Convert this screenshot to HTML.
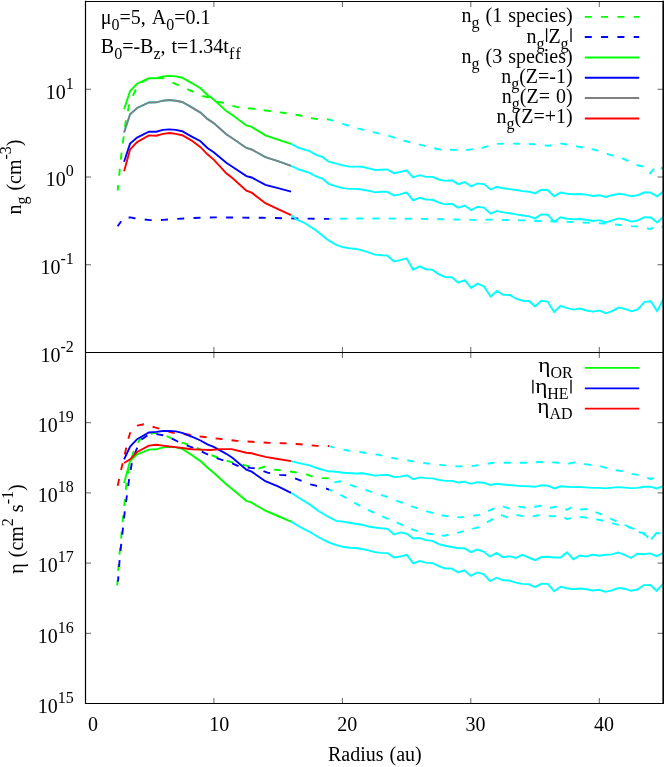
<!DOCTYPE html>
<html><head><meta charset="utf-8"><title>plot</title><style>
html,body{margin:0;padding:0;background:#fff;}
#w{position:relative;width:664px;height:767px;overflow:hidden;background:#fff;font-family:"Liberation Serif",serif;font-size:20px;color:#000;will-change:transform;}
.t{position:absolute;white-space:nowrap;line-height:1;word-spacing:1px;font-variant-ligatures:none;font-feature-settings:"liga" 0,"clig" 0;}
.r{text-align:right;}
.sb{font-size:16px;position:relative;top:6px;}
.sp{font-size:16px;position:relative;top:-10px;}
.rot{transform-origin:0 0;transform:rotate(-90deg);}
</style></head>
<body><div id="w">
<svg width="664" height="767" viewBox="0 0 664 767" style="position:absolute;left:0;top:0">
<defs><clipPath id="c1"><rect x="85.5" y="1.5" width="577.5" height="351"/></clipPath><clipPath id="c2"><rect x="85.5" y="352.5" width="577.5" height="351"/></clipPath><clipPath id="c1a"><rect x="85.5" y="1.5" width="243.8" height="351"/></clipPath><clipPath id="c1b"><rect x="329.3" y="1.5" width="333.7" height="351"/></clipPath><clipPath id="c2a"><rect x="85.5" y="352.5" width="243.8" height="351"/></clipPath><clipPath id="c2b"><rect x="329.3" y="352.5" width="333.7" height="351"/></clipPath></defs>
<defs><clipPath id="z0"><rect x="85.5" y="1.5" width="129.5" height="351"/></clipPath><clipPath id="z1"><rect x="215" y="1.5" width="114.30000000000001" height="351"/></clipPath><clipPath id="z2"><rect x="329.3" y="1.5" width="333.7" height="351"/></clipPath><clipPath id="z3"><rect x="85.5" y="1.5" width="243.8" height="351"/></clipPath><clipPath id="z4"><rect x="329.3" y="1.5" width="333.7" height="351"/></clipPath><clipPath id="z5"><rect x="85.5" y="352.5" width="243.8" height="351"/></clipPath><clipPath id="z6"><rect x="329.3" y="352.5" width="70.69999999999999" height="351"/></clipPath><clipPath id="z7"><rect x="400" y="352.5" width="263" height="351"/></clipPath><clipPath id="z8"><rect x="85.5" y="352.5" width="243.8" height="351"/></clipPath><clipPath id="z9"><rect x="329.3" y="352.5" width="150.7" height="351"/></clipPath><clipPath id="z10"><rect x="480" y="352.5" width="183" height="351"/></clipPath><clipPath id="z11"><rect x="85.5" y="352.5" width="243.8" height="351"/></clipPath><clipPath id="z12"><rect x="329.3" y="352.5" width="333.7" height="351"/></clipPath></defs>
<polyline clip-path="url(#z0)" fill="none" stroke="#00ff00" stroke-width="1.9" stroke-dasharray="7 9.3" stroke-dashoffset="1.50" points="117.7,190.5 120.1,165.9 121.9,149.4 123.7,136.7 125.6,122.1 127.4,112.9 129.8,102.0 136.5,88.3 142.9,81.5 149.3,78.6 156.6,78.1 163.9,78.2 173.1,82.8 182.2,87.0 191.3,91.0 200.5,94.7 203.2,96.3 209.5,97.4 219.0,102.3 224.2,102.7 235.8,106.9 251.7,108.6 267.5,110.7 283.3,112.8 299.1,115.3 314.9,118.9 328.6,119.5 334.9,121.2 344.3,124.4 358.7,128.7 373.0,132.1 387.3,135.3 401.7,140.2 416.0,143.6 430.3,147.3 440.4,149.6 453.3,149.9 467.6,149.9 481.9,147.9 496.3,143.9 508.3,143.5 522.7,143.8 537.0,144.4 548.5,145.8 561.4,143.5 577.1,146.4 594.3,149.6 608.7,154.4 623.0,158.7 637.4,165.3 646.0,167.3 650.2,173.1 656.8,165.3 663.4,169.1"/>
<polyline clip-path="url(#z1)" fill="none" stroke="#00ff00" stroke-width="1.9" stroke-dasharray="7 8.95" stroke-dashoffset="13.35" points="117.7,190.5 120.1,165.9 121.9,149.4 123.7,136.7 125.6,122.1 127.4,112.9 129.8,102.0 136.5,88.3 142.9,81.5 149.3,78.6 156.6,78.1 163.9,78.2 173.1,82.8 182.2,87.0 191.3,91.0 200.5,94.7 203.2,96.3 209.5,97.4 219.0,102.3 224.2,102.7 235.8,106.9 251.7,108.6 267.5,110.7 283.3,112.8 299.1,115.3 314.9,118.9 328.6,119.5 334.9,121.2 344.3,124.4 358.7,128.7 373.0,132.1 387.3,135.3 401.7,140.2 416.0,143.6 430.3,147.3 440.4,149.6 453.3,149.9 467.6,149.9 481.9,147.9 496.3,143.9 508.3,143.5 522.7,143.8 537.0,144.4 548.5,145.8 561.4,143.5 577.1,146.4 594.3,149.6 608.7,154.4 623.0,158.7 637.4,165.3 646.0,167.3 650.2,173.1 656.8,165.3 663.4,169.1"/>
<polyline clip-path="url(#z2)" fill="none" stroke="#00ffff" stroke-width="1.9" stroke-dasharray="7 8.9" stroke-dashoffset="12.35" points="117.7,190.5 120.1,165.9 121.9,149.4 123.7,136.7 125.6,122.1 127.4,112.9 129.8,102.0 136.5,88.3 142.9,81.5 149.3,78.6 156.6,78.1 163.9,78.2 173.1,82.8 182.2,87.0 191.3,91.0 200.5,94.7 203.2,96.3 209.5,97.4 219.0,102.3 224.2,102.7 235.8,106.9 251.7,108.6 267.5,110.7 283.3,112.8 299.1,115.3 314.9,118.9 328.6,119.5 334.9,121.2 344.3,124.4 358.7,128.7 373.0,132.1 387.3,135.3 401.7,140.2 416.0,143.6 430.3,147.3 440.4,149.6 453.3,149.9 467.6,149.9 481.9,147.9 496.3,143.9 508.3,143.5 522.7,143.8 537.0,144.4 548.5,145.8 561.4,143.5 577.1,146.4 594.3,149.6 608.7,154.4 623.0,158.7 637.4,165.3 646.0,167.3 650.2,173.1 656.8,165.3 663.4,169.1"/>
<polyline clip-path="url(#z3)" fill="none" stroke="#0000ff" stroke-width="1.9" stroke-dasharray="7 9.3" stroke-dashoffset="0.90" points="117.6,226.2 124.0,217.5 130.5,217.4 136.9,218.8 143.3,219.4 149.7,220.1 156.0,220.2 162.6,219.9 175.0,219.0 188.0,218.2 200.0,217.7 216.0,217.4 262.6,217.8 295.0,218.5 328.6,218.9 358.7,218.5 387.3,218.5 416.0,218.8 444.7,219.3 473.4,219.9 490.6,219.6 499.7,219.8 522.7,220.4 551.3,221.3 580.0,222.4 608.7,223.8 631.6,226.1 643.1,226.7 650.2,229.3 656.8,225.0 663.4,227.0"/>
<polyline clip-path="url(#z4)" fill="none" stroke="#00ffff" stroke-width="1.9" stroke-dasharray="7 9.18" stroke-dashoffset="15.52" points="117.6,226.2 124.0,217.5 130.5,217.4 136.9,218.8 143.3,219.4 149.7,220.1 156.0,220.2 162.6,219.9 175.0,219.0 188.0,218.2 200.0,217.7 216.0,217.4 262.6,217.8 295.0,218.5 328.6,218.9 358.7,218.5 387.3,218.5 416.0,218.8 444.7,219.3 473.4,219.9 490.6,219.6 499.7,219.8 522.7,220.4 551.3,221.3 580.0,222.4 608.7,223.8 631.6,226.1 643.1,226.7 650.2,229.3 656.8,225.0 663.4,227.0"/>
<polyline clip-path="url(#c1)" fill="none" stroke="#00ff00" stroke-width="1.9" points="124.1,109.3 130.1,91.0 137.1,83.7 148.9,78.2 156.3,78.2 163.0,76.4 169.4,75.9 175.8,76.4 182.2,77.7 191.3,82.8 200.5,88.3 207.4,94.9 213.7,99.5 226.3,111.1 232.7,115.3 246.4,125.5 251.7,126.9 265.4,135.4 278.0,139.6 291.1,143.8"/>
<polyline clip-path="url(#c1)" fill="none" stroke="#0000ff" stroke-width="1.9" points="124.1,161.8 130.1,143.6 137.1,137.6 148.9,131.7 156.3,131.7 163.0,129.9 169.4,129.4 175.8,129.9 182.2,131.2 191.3,136.3 200.5,141.2 207.4,148.0 213.7,152.2 226.3,162.8 232.7,167.0 246.4,176.1 251.7,177.5 265.4,184.9 278.0,188.1 291.1,191.7"/>
<polyline clip-path="url(#c1)" fill="none" stroke="#00ffff" stroke-width="1.9" points="124.1,132.5 130.1,114.2 137.1,108.0 148.9,102.5 156.3,102.3 163.0,100.7 169.4,100.0 175.8,100.7 182.2,102.0 191.3,107.1 200.5,112.6 207.4,118.9 213.7,123.1 226.3,134.3 232.7,138.5 246.4,148.0 251.7,149.5 265.4,157.1 278.0,161.1 291.1,165.9"/>
<polyline clip-path="url(#c1)" fill="none" stroke="#808080" stroke-width="1.9" points="124.1,132.5 130.1,114.2 137.1,108.0 148.9,102.5 156.3,102.3 163.0,100.7 169.4,100.0 175.8,100.7 182.2,102.0 191.3,107.1 200.5,112.6 207.4,118.9 213.7,123.1 226.3,134.3 232.7,138.5 246.4,148.0 251.7,149.5 265.4,157.1 278.0,161.1 291.1,165.9"/>
<polyline clip-path="url(#c1)" fill="none" stroke="#ff0000" stroke-width="1.9" points="124.1,171.3 130.1,149.4 137.1,142.1 148.9,135.4 156.3,135.7 163.0,133.9 169.4,133.0 175.8,133.9 182.2,135.2 191.3,140.3 200.5,147.2 207.4,154.3 213.7,159.6 226.3,173.3 232.7,178.2 246.4,190.6 251.7,192.7 265.4,203.2 278.0,209.2 291.1,215.1"/>
<polyline clip-path="url(#c1)" fill="none" stroke="#00ffff" stroke-width="1.9" points="291.1,143.8 299.1,148.0 309.6,151.2 316.0,154.8 322.3,156.9 328.6,161.7 336.3,163.7 342.9,165.4 349.2,166.6 355.8,166.6 362.1,166.8 368.7,168.3 375.0,170.0 381.6,169.7 387.3,169.4 393.9,173.2 400.2,172.0 406.6,170.3 413.1,177.4 419.4,175.2 426.0,176.9 432.4,176.9 438.9,179.5 445.2,180.9 451.9,180.3 458.1,184.1 464.8,182.0 471.1,186.3 477.6,183.5 484.0,184.1 490.6,189.5 496.9,186.8 503.2,188.3 509.8,189.1 516.1,190.0 522.7,191.1 529.0,191.7 535.0,193.4 541.3,189.7 547.6,190.0 554.2,196.3 560.5,192.6 567.1,193.7 573.4,194.3 580.0,194.0 586.3,194.6 592.9,196.0 599.2,195.2 605.8,196.9 612.1,195.2 618.7,193.7 625.0,194.6 631.6,196.3 637.9,195.2 644.5,192.3 650.8,192.6 657.1,196.3 664.6,190.6"/>
<polyline clip-path="url(#c1)" fill="none" stroke="#00ffff" stroke-width="1.9" points="291.1,165.9 299.1,169.5 309.6,172.9 316.0,176.5 322.3,178.6 328.6,183.8 336.3,186.3 342.9,188.1 349.2,188.9 355.8,188.9 362.1,189.5 368.7,190.7 375.0,192.4 381.6,191.8 387.3,191.8 393.9,195.5 400.2,194.4 406.6,192.4 413.1,200.4 419.4,197.8 426.0,199.5 432.4,199.8 438.9,202.7 445.2,204.4 451.9,203.8 458.1,207.6 464.8,205.6 471.1,210.2 477.6,206.7 484.0,207.6 490.6,213.6 496.9,210.9 503.2,212.4 509.8,213.2 516.1,214.4 522.7,215.5 529.0,216.4 535.0,218.4 541.3,214.4 547.6,214.7 554.2,221.8 560.5,217.2 567.1,218.7 573.4,219.2 580.0,219.0 586.3,219.8 592.9,221.0 599.2,220.1 605.8,222.4 612.1,220.4 618.7,218.4 625.0,219.5 631.6,221.6 637.9,220.4 644.5,217.2 650.8,217.5 657.1,222.4 664.6,215.8"/>
<polyline clip-path="url(#c1)" fill="none" stroke="#00ffff" stroke-width="1.9" points="291.1,215.1 297.0,219.7 305.4,223.5 314.9,229.6 322.3,235.5 328.6,240.4 336.3,244.9 342.9,247.2 349.2,248.3 355.8,248.9 362.1,250.3 368.7,252.3 375.0,254.6 381.6,255.2 387.3,255.5 393.9,261.5 400.2,260.1 406.6,258.4 413.1,269.8 419.4,266.4 426.0,269.2 432.4,269.8 438.9,274.4 445.2,277.0 451.9,277.3 458.1,282.7 464.8,280.1 471.1,287.9 477.6,283.6 484.0,286.5 490.6,296.5 496.9,291.0 503.2,294.7 509.8,295.0 516.1,298.7 522.7,300.7 529.0,301.0 535.0,306.5 541.3,300.7 547.6,301.6 554.2,311.9 560.5,305.9 567.1,308.2 573.4,309.6 580.0,308.5 586.3,310.5 592.9,311.6 599.2,310.5 605.8,313.3 612.1,311.1 618.7,307.6 625.0,308.8 631.6,311.3 637.9,309.3 644.5,301.9 650.8,301.3 657.1,311.1 664.6,296.7"/>
<polyline clip-path="url(#z5)" fill="none" stroke="#00ff00" stroke-width="1.9" stroke-dasharray="7 9.3" stroke-dashoffset="1.80" points="117.2,585.4 119.0,558.7 120.7,542.4 122.2,526.1 123.7,510.4 125.0,498.6 126.5,482.1 129.2,465.7 133.8,451.1 139.3,440.1 147.5,434.7 154.8,432.9 167.6,436.5 176.7,441.1 187.7,444.4 200.5,449.3 210.5,454.8 221.1,459.0 231.6,462.2 245.3,465.4 259.0,468.5 265.4,466.4 273.8,469.6 284.3,470.6 294.9,472.3 305.4,473.8 311.7,476.3 320.2,478.0 328.6,478.4 330.0,483.2 340.2,481.2 354.3,486.3 368.4,490.9 383.8,495.8 397.8,501.2 413.2,506.8 428.6,511.9 443.9,515.8 460.0,517.4 479.0,514.9 488.0,511.1 494.0,508.4 498.5,506.2 503.4,506.6 509.2,508.4 518.7,506.6 525.0,507.5 535.0,506.7 541.0,505.8 550.4,507.7 556.7,506.6 564.5,508.3 567.0,509.8 571.0,507.5 580.0,509.5 586.3,509.0 595.7,512.2 602.0,514.5 609.8,518.4 616.0,521.1 625.0,525.0 631.3,528.1 639.6,532.3 645.4,533.5 650.6,540.0 656.5,533.0 664.0,533.5"/>
<polyline clip-path="url(#z6)" fill="none" stroke="#00ffff" stroke-width="1.9" stroke-dasharray="7 9.3" stroke-dashoffset="1.80" points="117.2,585.4 119.0,558.7 120.7,542.4 122.2,526.1 123.7,510.4 125.0,498.6 126.5,482.1 129.2,465.7 133.8,451.1 139.3,440.1 147.5,434.7 154.8,432.9 167.6,436.5 176.7,441.1 187.7,444.4 200.5,449.3 210.5,454.8 221.1,459.0 231.6,462.2 245.3,465.4 259.0,468.5 265.4,466.4 273.8,469.6 284.3,470.6 294.9,472.3 305.4,473.8 311.7,476.3 320.2,478.0 328.6,478.4 330.0,483.2 340.2,481.2 354.3,486.3 368.4,490.9 383.8,495.8 397.8,501.2 413.2,506.8 428.6,511.9 443.9,515.8 460.0,517.4 479.0,514.9 488.0,511.1 494.0,508.4 498.5,506.2 503.4,506.6 509.2,508.4 518.7,506.6 525.0,507.5 535.0,506.7 541.0,505.8 550.4,507.7 556.7,506.6 564.5,508.3 567.0,509.8 571.0,507.5 580.0,509.5 586.3,509.0 595.7,512.2 602.0,514.5 609.8,518.4 616.0,521.1 625.0,525.0 631.3,528.1 639.6,532.3 645.4,533.5 650.6,540.0 656.5,533.0 664.0,533.5"/>
<polyline clip-path="url(#z7)" fill="none" stroke="#00ffff" stroke-width="1.9" stroke-dasharray="7 8.9" stroke-dashoffset="7.30" points="117.2,585.4 119.0,558.7 120.7,542.4 122.2,526.1 123.7,510.4 125.0,498.6 126.5,482.1 129.2,465.7 133.8,451.1 139.3,440.1 147.5,434.7 154.8,432.9 167.6,436.5 176.7,441.1 187.7,444.4 200.5,449.3 210.5,454.8 221.1,459.0 231.6,462.2 245.3,465.4 259.0,468.5 265.4,466.4 273.8,469.6 284.3,470.6 294.9,472.3 305.4,473.8 311.7,476.3 320.2,478.0 328.6,478.4 330.0,483.2 340.2,481.2 354.3,486.3 368.4,490.9 383.8,495.8 397.8,501.2 413.2,506.8 428.6,511.9 443.9,515.8 460.0,517.4 479.0,514.9 488.0,511.1 494.0,508.4 498.5,506.2 503.4,506.6 509.2,508.4 518.7,506.6 525.0,507.5 535.0,506.7 541.0,505.8 550.4,507.7 556.7,506.6 564.5,508.3 567.0,509.8 571.0,507.5 580.0,509.5 586.3,509.0 595.7,512.2 602.0,514.5 609.8,518.4 616.0,521.1 625.0,525.0 631.3,528.1 639.6,532.3 645.4,533.5 650.6,540.0 656.5,533.0 664.0,533.5"/>
<polyline clip-path="url(#z8)" fill="none" stroke="#0000ff" stroke-width="1.9" stroke-dasharray="7 9.3" stroke-dashoffset="1.80" points="118.0,581.5 119.7,558.7 121.4,542.4 123.2,526.1 124.9,510.4 126.5,498.6 129.2,478.5 132.0,462.1 136.5,449.3 142.0,439.2 148.4,434.7 154.8,433.8 163.0,435.2 173.1,439.2 182.2,443.8 191.3,447.1 200.5,451.1 210.5,455.9 221.1,459.7 231.6,463.2 239.0,466.4 250.6,467.9 256.9,468.5 267.5,472.7 280.1,474.9 286.4,475.3 297.0,479.1 309.6,484.3 314.9,485.4 326.5,488.6 330.7,490.2 342.8,496.1 356.9,504.2 371.0,511.4 385.0,517.6 399.1,523.5 413.2,529.9 428.6,533.7 443.9,535.7 459.3,532.4 478.0,527.4 486.2,522.8 492.2,519.4 497.0,515.3 501.6,515.2 507.4,517.4 516.0,514.7 522.4,516.1 532.3,516.5 538.1,515.2 548.2,516.1 554.3,516.3 563.0,516.0 566.5,518.9 568.6,518.6 577.5,516.9 583.8,517.3 593.7,518.9 600.0,520.0 609.3,522.3 615.6,524.2 625.0,526.3 631.3,527.8 639.9,531.7 645.4,534.9 650.6,540.0 656.5,533.0 664.0,533.5"/>
<polyline clip-path="url(#z9)" fill="none" stroke="#00ffff" stroke-width="1.9" stroke-dasharray="7 8.72" stroke-dashoffset="5.34" points="118.0,581.5 119.7,558.7 121.4,542.4 123.2,526.1 124.9,510.4 126.5,498.6 129.2,478.5 132.0,462.1 136.5,449.3 142.0,439.2 148.4,434.7 154.8,433.8 163.0,435.2 173.1,439.2 182.2,443.8 191.3,447.1 200.5,451.1 210.5,455.9 221.1,459.7 231.6,463.2 239.0,466.4 250.6,467.9 256.9,468.5 267.5,472.7 280.1,474.9 286.4,475.3 297.0,479.1 309.6,484.3 314.9,485.4 326.5,488.6 330.7,490.2 342.8,496.1 356.9,504.2 371.0,511.4 385.0,517.6 399.1,523.5 413.2,529.9 428.6,533.7 443.9,535.7 459.3,532.4 478.0,527.4 486.2,522.8 492.2,519.4 497.0,515.3 501.6,515.2 507.4,517.4 516.0,514.7 522.4,516.1 532.3,516.5 538.1,515.2 548.2,516.1 554.3,516.3 563.0,516.0 566.5,518.9 568.6,518.6 577.5,516.9 583.8,517.3 593.7,518.9 600.0,520.0 609.3,522.3 615.6,524.2 625.0,526.3 631.3,527.8 639.9,531.7 645.4,534.9 650.6,540.0 656.5,533.0 664.0,533.5"/>
<polyline clip-path="url(#z10)" fill="none" stroke="#00ffff" stroke-width="1.9" stroke-dasharray="7 9.3" stroke-dashoffset="7.68" points="118.0,581.5 119.7,558.7 121.4,542.4 123.2,526.1 124.9,510.4 126.5,498.6 129.2,478.5 132.0,462.1 136.5,449.3 142.0,439.2 148.4,434.7 154.8,433.8 163.0,435.2 173.1,439.2 182.2,443.8 191.3,447.1 200.5,451.1 210.5,455.9 221.1,459.7 231.6,463.2 239.0,466.4 250.6,467.9 256.9,468.5 267.5,472.7 280.1,474.9 286.4,475.3 297.0,479.1 309.6,484.3 314.9,485.4 326.5,488.6 330.7,490.2 342.8,496.1 356.9,504.2 371.0,511.4 385.0,517.6 399.1,523.5 413.2,529.9 428.6,533.7 443.9,535.7 459.3,532.4 478.0,527.4 486.2,522.8 492.2,519.4 497.0,515.3 501.6,515.2 507.4,517.4 516.0,514.7 522.4,516.1 532.3,516.5 538.1,515.2 548.2,516.1 554.3,516.3 563.0,516.0 566.5,518.9 568.6,518.6 577.5,516.9 583.8,517.3 593.7,518.9 600.0,520.0 609.3,522.3 615.6,524.2 625.0,526.3 631.3,527.8 639.9,531.7 645.4,534.9 650.6,540.0 656.5,533.0 664.0,533.5"/>
<polyline clip-path="url(#z11)" fill="none" stroke="#ff0000" stroke-width="1.9" stroke-dasharray="7 9.065" stroke-dashoffset="0.00" points="117.7,485.8 121.0,470.3 124.7,454.8 127.4,442.0 130.1,432.9 137.4,425.6 143.8,424.3 154.8,427.4 160.3,428.8 173.1,432.9 189.5,434.7 200.5,436.5 221.1,439.0 235.8,440.7 251.7,441.8 267.5,442.8 284.3,443.2 300.1,444.3 316.0,445.8 328.6,446.0 335.1,447.9 347.9,450.5 363.3,452.5 378.6,454.8 394.0,458.2 409.4,460.7 426.0,463.3 442.6,465.1 458.0,466.4 474.6,465.8 490.0,463.3 494.0,462.8 509.4,462.8 524.7,462.8 540.1,462.0 555.4,462.5 567.8,463.9 574.1,462.4 583.8,463.9 589.8,464.9 600.0,466.0 606.2,467.8 615.6,470.2 621.9,471.1 631.3,473.8 637.8,474.9 644.0,476.3 650.6,479.2 657.0,476.5 664.0,476.0"/>
<polyline clip-path="url(#z12)" fill="none" stroke="#00ffff" stroke-width="1.9" stroke-dasharray="7 9.18" stroke-dashoffset="1.84" points="117.7,485.8 121.0,470.3 124.7,454.8 127.4,442.0 130.1,432.9 137.4,425.6 143.8,424.3 154.8,427.4 160.3,428.8 173.1,432.9 189.5,434.7 200.5,436.5 221.1,439.0 235.8,440.7 251.7,441.8 267.5,442.8 284.3,443.2 300.1,444.3 316.0,445.8 328.6,446.0 335.1,447.9 347.9,450.5 363.3,452.5 378.6,454.8 394.0,458.2 409.4,460.7 426.0,463.3 442.6,465.1 458.0,466.4 474.6,465.8 490.0,463.3 494.0,462.8 509.4,462.8 524.7,462.8 540.1,462.0 555.4,462.5 567.8,463.9 574.1,462.4 583.8,463.9 589.8,464.9 600.0,466.0 606.2,467.8 615.6,470.2 621.9,471.1 631.3,473.8 637.8,474.9 644.0,476.3 650.6,479.2 657.0,476.5 664.0,476.0"/>
<polyline clip-path="url(#c2)" fill="none" stroke="#00ff00" stroke-width="1.9" points="124.1,483.0 130.1,461.1 137.1,454.4 148.9,449.6 156.3,449.3 163.0,447.4 169.4,446.9 175.8,447.4 182.2,448.9 191.3,454.8 200.5,461.1 207.4,467.5 213.7,472.7 226.3,484.3 232.7,489.6 246.4,500.8 251.7,502.7 265.4,510.7 278.0,516.0 291.1,521.6"/>
<polyline clip-path="url(#c2)" fill="none" stroke="#0000ff" stroke-width="1.9" points="124.1,459.3 130.1,446.5 137.1,439.2 148.9,432.5 156.3,431.9 163.0,431.0 169.4,430.9 175.8,431.4 182.2,432.9 191.3,436.5 200.5,440.5 207.4,444.3 213.7,446.8 226.3,453.8 232.7,458.0 246.4,469.6 251.7,471.7 265.4,481.2 278.0,486.4 291.1,492.8"/>
<polyline clip-path="url(#c2)" fill="none" stroke="#ff0000" stroke-width="1.9" points="124.1,463.0 130.1,459.3 137.1,452.0 148.9,445.6 156.3,444.7 163.0,445.6 169.4,446.5 175.8,447.1 182.2,448.0 191.3,449.3 200.5,449.6 210.5,450.0 221.1,449.1 231.6,449.1 246.4,452.7 251.7,453.3 265.4,456.9 278.0,459.0 291.1,461.1"/>
<polyline clip-path="url(#c2)" fill="none" stroke="#00ffff" stroke-width="1.9" points="291.1,521.6 299.1,526.5 309.6,531.8 318.1,537.0 328.6,542.3 336.4,545.2 342.8,546.7 349.2,547.8 355.6,548.0 362.0,549.0 368.4,550.3 374.8,552.1 381.2,552.9 387.6,553.1 394.0,557.5 400.4,556.5 406.8,554.9 413.2,563.4 419.6,561.1 426.0,562.6 432.4,563.1 438.8,566.2 445.2,568.5 451.6,568.5 458.0,572.4 464.4,570.3 470.8,575.9 477.2,572.4 483.6,574.1 490.0,581.0 496.6,577.7 503.0,580.3 509.4,580.5 515.8,582.6 522.2,583.9 528.6,584.1 535.0,587.2 541.4,583.6 547.8,583.9 554.2,591.3 560.6,586.7 567.0,588.2 573.4,589.2 579.8,588.5 586.2,589.2 592.6,590.5 599.0,589.8 605.4,591.8 611.8,590.3 618.2,588.0 624.6,588.7 631.0,590.8 637.4,589.5 643.8,585.1 650.2,584.9 656.6,590.8 664.2,582.6"/>
<polyline clip-path="url(#c2)" fill="none" stroke="#00ffff" stroke-width="1.9" points="291.1,492.8 299.1,498.0 309.6,504.4 318.1,510.7 328.6,517.0 336.4,520.9 342.8,521.6 349.2,522.7 355.6,523.7 362.0,524.7 368.4,526.5 374.8,527.5 381.2,528.3 387.6,528.8 394.0,534.5 400.4,532.4 406.8,533.7 413.2,538.5 419.6,538.0 426.0,540.1 432.4,540.9 438.8,544.2 445.2,545.7 451.6,547.0 458.0,548.3 464.4,548.3 470.8,552.1 477.2,549.6 483.6,551.6 490.0,556.7 496.6,552.9 503.0,557.2 509.4,556.2 515.8,558.0 522.2,554.9 528.6,557.5 535.0,560.1 541.4,557.0 547.8,556.7 554.2,557.5 560.6,557.5 567.0,552.4 573.4,559.3 579.8,555.5 586.2,556.5 592.6,554.7 599.0,555.7 605.4,554.7 611.8,554.4 618.2,552.4 624.6,554.9 631.0,558.0 637.4,553.7 643.8,554.2 650.2,553.4 656.6,556.2 664.2,552.4"/>
<polyline clip-path="url(#c2)" fill="none" stroke="#00ffff" stroke-width="1.9" points="291.1,461.1 299.1,463.2 309.6,465.4 318.1,468.5 328.6,471.3 336.4,471.7 342.8,472.8 355.6,473.5 362.0,473.3 368.4,474.3 374.8,475.6 381.2,475.1 387.6,474.8 394.0,477.1 400.4,476.6 406.8,475.3 413.2,479.2 419.6,477.4 426.0,478.1 432.4,478.4 438.8,479.9 445.2,480.9 451.6,480.9 458.0,482.5 464.4,481.7 470.8,483.8 477.2,482.2 483.6,482.7 490.0,485.0 496.6,483.8 503.0,484.5 509.4,485.0 515.8,485.6 522.2,486.1 528.6,486.3 535.0,486.8 541.4,485.3 547.8,485.6 554.2,488.4 560.6,486.3 567.0,486.8 573.4,487.1 579.8,487.1 586.2,487.4 592.6,487.9 599.0,487.9 605.4,488.4 611.8,487.6 618.2,487.1 624.6,487.6 631.0,488.1 637.4,487.9 643.8,486.8 650.2,486.6 656.6,488.4 664.2,485.8"/>
<line x1="584.8" x2="639.2" y1="16.9" y2="16.9" stroke="#00ff00" stroke-width="1.9" stroke-dasharray="7 9.3"/>
<line x1="584.8" x2="639.2" y1="37" y2="37" stroke="#0000ff" stroke-width="1.9" stroke-dasharray="7 9.3"/>
<line x1="584.8" x2="639.2" y1="57.5" y2="57.5" stroke="#00ff00" stroke-width="1.9"/>
<line x1="584.8" x2="639.2" y1="77.8" y2="77.8" stroke="#0000ff" stroke-width="1.9"/>
<line x1="584.8" x2="639.2" y1="98" y2="98" stroke="#808080" stroke-width="1.9"/>
<line x1="584.8" x2="639.2" y1="118.5" y2="118.5" stroke="#ff0000" stroke-width="1.9"/>
<line x1="584.8" x2="639.2" y1="367.9" y2="367.9" stroke="#00ff00" stroke-width="1.9"/>
<line x1="584.8" x2="639.2" y1="388.4" y2="388.4" stroke="#0000ff" stroke-width="1.9"/>
<line x1="584.8" x2="639.2" y1="408.6" y2="408.6" stroke="#ff0000" stroke-width="1.9"/>
<g stroke="#000" stroke-width="1.2" fill="none">
<path d="M85.5 1.5 H663.2 M85.5 352.5 H663.2 M85.5 703.5 H663.2 M85.5 0.8 V704.1"/>
<path d="M663.2 0.8 V704.1" stroke-width="1.6"/>
</g>
<g stroke="#111" stroke-width="0.65" fill="none">
<path d="M213.9 1.5 v5.5 M213.9 347 v11 M213.9 703.5 v-5.5 M342.4 1.5 v5.5 M342.4 347 v11 M342.4 703.5 v-5.5 M470.8 1.5 v5.5 M470.8 347 v11 M470.8 703.5 v-5.5 M599.3 1.5 v5.5 M599.3 347 v11 M599.3 703.5 v-5.5 M85.5 89.25 h5.5 M663 89.25 h-5.5 M85.5 177 h5.5 M663 177 h-5.5 M85.5 264.75 h5.5 M663 264.75 h-5.5 M85.5 422.7 h5.5 M663 422.7 h-5.5 M85.5 492.9 h5.5 M663 492.9 h-5.5 M85.5 563.1 h5.5 M663 563.1 h-5.5 M85.5 633.3 h5.5 M663 633.3 h-5.5 "/>
</g>
<path d="M546.6 28.3V41.9M571 28.3V41.9M532.9 379.8V393.5M571 379.8V393.5" stroke="#000" stroke-width="1.3" fill="none"/>
</svg>
<div class="t " style="left:100.8px;top:7.25px">μ<span class="sb">0</span>=5, A<span class="sb">0</span>=0.1</div>
<div class="t " style="left:100.8px;top:36.05px">B<span class="sb">0</span>=-B<span class="sb">z</span>, t=1.34t<span class="sb" style="letter-spacing:1.6px">ff</span></div>
<div class="t r " style="right:91.4px;top:4.85px">n<span class="sb">g</span> (1 species)</div>
<div class="t r " style="right:91.4px;top:25.65px">n<span class="sb">g</span><span style="display:inline-block;width:4px;height:13.4px"></span>Z<span class="sb">g</span><span style="display:inline-block;width:4px;height:13.4px"></span></div>
<div class="t r " style="right:91.4px;top:46.45px">n<span class="sb">g</span> (3 species)</div>
<div class="t r " style="right:91.4px;top:66.15px">n<span class="sb">g</span>(Z=-1)</div>
<div class="t r " style="right:91.4px;top:86.35px">n<span class="sb">g</span>(Z= 0)</div>
<div class="t r " style="right:91.4px;top:106.35px">n<span class="sb">g</span>(Z=+1)</div>
<div class="t r " style="right:91.4px;top:355.25px"><span style="display:inline-block;transform:scaleX(1.17);transform-origin:100% 50%;margin-left:1.7px">η</span><span class="sb">OR</span></div>
<div class="t r " style="right:91.4px;top:375.75px"><span style="display:inline-block;width:4px;height:13.4px"></span><span style="display:inline-block;transform:scaleX(1.17);transform-origin:100% 50%;margin-left:1.7px">η</span><span class="sb">HE</span><span style="display:inline-block;width:4px;height:13.4px"></span></div>
<div class="t r " style="right:91.4px;top:395.95px"><span style="display:inline-block;transform:scaleX(1.17);transform-origin:100% 50%;margin-left:1.7px">η</span><span class="sb">AD</span></div>
<div class="t r " style="right:590.3px;top:81.60px">10<span class="sp">1</span></div>
<div class="t r " style="right:590.3px;top:169.35px">10<span class="sp">0</span></div>
<div class="t r " style="right:590.3px;top:257.10px">10<span class="sp">-1</span></div>
<div class="t r " style="right:590.3px;top:344.85px">10<span class="sp">-2</span></div>
<div class="t r " style="right:590.3px;top:415.05px">10<span class="sp">19</span></div>
<div class="t r " style="right:590.3px;top:485.25px">10<span class="sp">18</span></div>
<div class="t r " style="right:590.3px;top:555.45px">10<span class="sp">17</span></div>
<div class="t r " style="right:590.3px;top:625.65px">10<span class="sp">16</span></div>
<div class="t r " style="right:590.3px;top:695.85px">10<span class="sp">15</span></div>
<div class="t" style="left:43.1px;width:100px;text-align:center;top:713.85px">0</div>
<div class="t" style="left:169.3px;width:100px;text-align:center;top:713.85px">10</div>
<div class="t" style="left:297.2px;width:100px;text-align:center;top:713.85px">20</div>
<div class="t" style="left:425.6px;width:100px;text-align:center;top:713.85px">30</div>
<div class="t" style="left:553.9px;width:100px;text-align:center;top:713.85px">40</div>
<div class="t" style="left:274.9px;width:200px;text-align:center;top:744.45px">Radius (au)</div>
<div class="t rot" style="left:4.15px;top:237.00px;width:120px;text-align:center">n<span class="sb">g</span> (cm<span class="sp">-3</span>)</div>
<div class="t rot" style="left:6.45px;top:598.50px;width:140px;text-align:center">η (cm<span class="sp">2</span> s<span class="sp">-1</span>)</div>
</div></body></html>
